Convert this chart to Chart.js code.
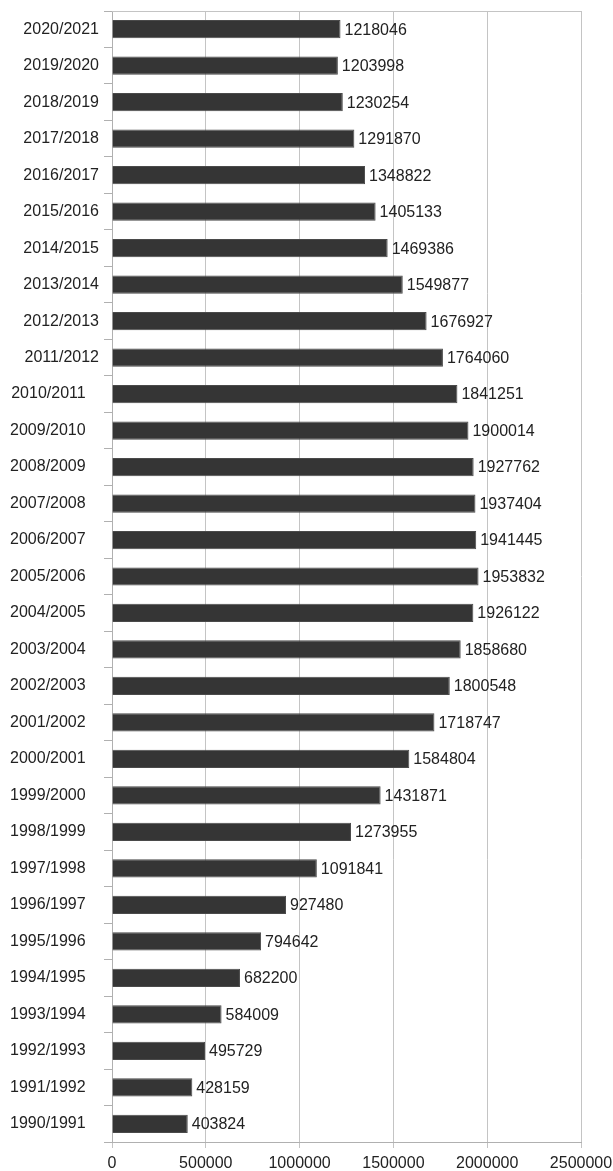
<!DOCTYPE html>
<html>
<head>
<meta charset="utf-8">
<script src="https://cdn.jsdelivr.net/npm/chart.js@4"></script>
<style>
  html, body { margin: 0; padding: 0; background: #fff; }
  #wrap { width: 613px; height: 1171px; }
</style>
</head>
<body>
<div id="wrap"><canvas id="myChart"></canvas></div>
<script>
// anos letivos, de cima para baixo (os mais antigos tem espaco no fim, como no original)
const years = [
  '2020/2021', '2019/2020', '2018/2019', '2017/2018', '2016/2017',
  '2015/2016', '2014/2015', '2013/2014', '2012/2013', '2011/2012',
  '2010/2011   ', '2009/2010   ', '2008/2009   ', '2007/2008   ', '2006/2007   ',
  '2005/2006   ', '2004/2005   ', '2003/2004   ', '2002/2003   ', '2001/2002   ',
  '2000/2001   ', '1999/2000   ', '1998/1999   ', '1997/1998   ', '1996/1997   ',
  '1995/1996   ', '1994/1995   ', '1993/1994   ', '1992/1993   ', '1991/1992   ',
  '1990/1991   '
]
const students = [
  1218046, 1203998, 1230254, 1291870, 1348822,
  1405133, 1469386, 1549877, 1676927, 1764060,
  1841251, 1900014, 1927762, 1937404, 1941445,
  1953832, 1926122, 1858680, 1800548, 1718747,
  1584804, 1431871, 1273955, 1091841, 927480,
  794642, 682200, 584009, 495729, 428159,
  403824
]
const xTicks = [0, 500000, 1000000, 1500000, 2000000, 2500000]

const font = { family: '"Liberation Sans", Arial, sans-serif', size: 16 }

// escreve o valor na ponta de cada barra
const valueLabels = {
  id: 'valueLabels',
  afterDatasetsDraw(chart) {
    const ctx = chart.ctx
    const meta = chart.getDatasetMeta(0)
    ctx.save()
    ctx.font = font.size + 'px ' + font.family
    ctx.fillStyle = '#222'
    ctx.textAlign = 'left'
    ctx.textBaseline = 'middle'
    meta.data.forEach((bar, i) => {
      ctx.fillText(String(students[i]), bar.x + 4, bar.y + 1)
    })
    ctx.restore()
  }
}

// linha de cima da area do grafico
const topBorder = {
  id: 'topBorder',
  afterDraw(chart) {
    const a = chart.chartArea
    const ctx = chart.ctx
    ctx.save()
    ctx.strokeStyle = '#c4c4c4'
    ctx.lineWidth = 1
    ctx.beginPath()
    ctx.moveTo(a.left, a.top + 0.5)
    ctx.lineTo(a.right, a.top + 0.5)
    ctx.stroke()
    ctx.restore()
  }
}

const ctx = document.getElementById('myChart').getContext('2d')

new Chart(ctx, {
  type: 'bar',
  data: {
    labels: years,
    datasets: [{
      data: students,
      backgroundColor: '#353535',
      borderColor: '#4a4a4a',
      borderWidth: 1,
      barPercentage: 0.5,
      categoryPercentage: 1
    }]
  },
  options: {
    indexAxis: 'y',
    responsive: true,
    maintainAspectRatio: false,
    animation: false,
    layout: { padding: { top: 11, right: 32, left: 0, bottom: 0 } },
    plugins: {
      legend: { display: false },
      tooltip: { enabled: false }
    },
    scales: {
      x: {
        min: 0,
        max: 2500000,
        afterBuildTicks: axis => { axis.ticks = xTicks.map(v => ({ value: v })) },
        afterFit: axis => {
          axis.height = 29
          axis.paddingLeft = 0
          axis.paddingRight = 0
        },
        grid: { color: '#c4c4c4', tickLength: 6 },
        border: { color: '#b0b0b0' },
        ticks: {
          color: '#222',
          font: font,
          padding: 6,
          maxRotation: 0,
          callback: v => String(v)
        }
      },
      y: {
        afterFit: axis => {
          axis.width = 112
          axis.paddingTop = 0
          axis.paddingBottom = 0
        },
        grid: { drawOnChartArea: false, color: '#b0b0b0', tickLength: 8 },
        border: { color: '#b0b0b0' },
        ticks: { color: '#222', font: font, padding: 5, autoSkip: false }
      }
    }
  },
  plugins: [valueLabels, topBorder]
})
</script>
</body>
</html>
